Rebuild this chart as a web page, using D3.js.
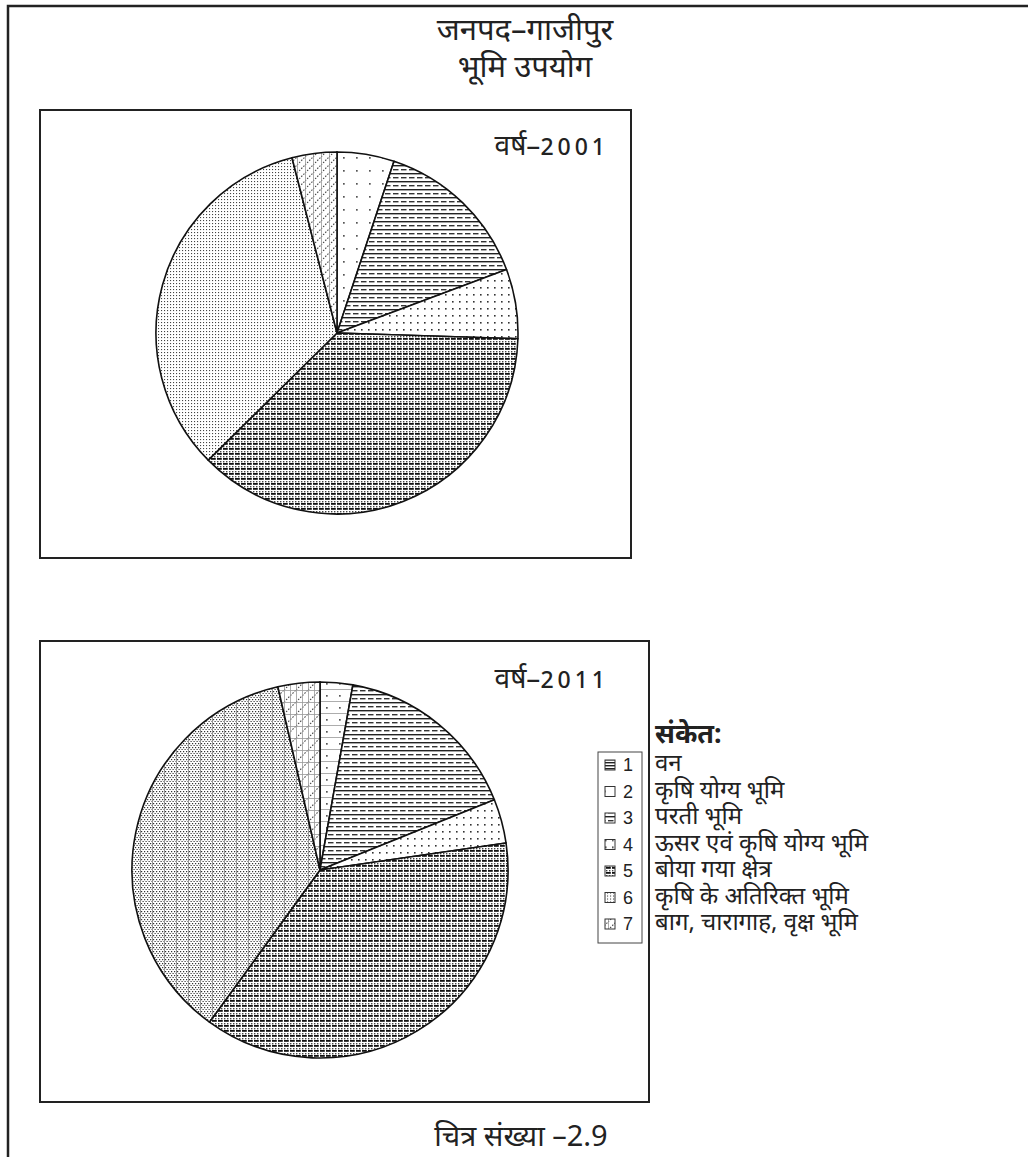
<!DOCTYPE html>
<html>
<head>
<meta charset="utf-8">
<script src="https://cdn.jsdelivr.net/npm/d3@7"></script>
<style>
  html, body { margin: 0; padding: 0; background: #fff; }
  svg { display: block; }
  .dev { font-family: "Noto Sans", "Lato", sans-serif; fill: #222; }
  .num { font-family: "Liberation Sans", Arial, sans-serif; fill: #222; }
</style>
</head>
<body>
<svg id="chart" width="1028" height="1157"></svg>
<script>
// ---------- data ----------
const titleLines = ["जनपद–गाजीपुर", "भूमि उपयोग"];
const categories = [
  "वन",
  "कृषि योग्य भूमि",
  "परती भूमि",
  "ऊसर एवं कृषि योग्य भूमि",
  "बोया गया क्षेत्र",
  "कृषि के अतिरिक्त भूमि",
  "बाग, चारागाह, वृक्ष भूमि"
];
const legendNumbers = ["1", "2", "3", "4", "5", "6", "7"];
const values2001 = [0, 5.1, 14.2, 6.2, 37.1, 33.4, 4.0];
const values2011 = [0, 2.8, 16.1, 3.8, 37.3, 36.4, 3.6];
const yearPrefix = "वर्ष–";
const years = ["2001", "2011"];
const legendTitle = "संकेत:";
const caption = "चित्र संख्या –2.9";

// ---------- drawing ----------
const svg = d3.select("#chart");
const defs = svg.append("defs");

function pat(id, w, h, build) {
  const p = defs.append("pattern").attr("id", id)
    .attr("patternUnits", "userSpaceOnUse").attr("width", w).attr("height", h);
  p.append("rect").attr("width", w).attr("height", h).attr("fill", "#fff");
  build(p);
}
// 1 (forest) - horizontal lines
pat("p1", 3, 3, p => p.append("rect").attr("y", 0).attr("width", 3).attr("height", 1.4).attr("fill", "#222"));
// 2 sparse dots
pat("p2a", 13, 13, p => p.append("rect").attr("x", 6).attr("y", 6).attr("width", 1.7).attr("height", 1.7).attr("fill", "#555"));
pat("p2b", 13, 12, p => {
  p.append("rect").attr("x", 6).attr("y", 5).attr("width", 1.7).attr("height", 1.7).attr("fill", "#555");
  p.append("rect").attr("x", 0).attr("y", 11).attr("width", 13).attr("height", 0.8).attr("fill", "#999");
});
// 3 dashes
pat("p3", 8, 8, p => {
  p.append("rect").attr("x", 0).attr("y", 0).attr("width", 8).attr("height", 1.4).attr("fill", "#222");
  p.append("rect").attr("x", 0).attr("y", 4).attr("width", 5.5).attr("height", 1.4).attr("fill", "#333");
});
// 4 dots
pat("p4", 7, 7, p => p.append("rect").attr("x", 3).attr("y", 3).attr("width", 1.6).attr("height", 1.6).attr("fill", "#333"));
// 5 dense dashes + dots
pat("p5", 6, 5, p => {
  p.append("rect").attr("x", 0).attr("y", 0).attr("width", 4.8).attr("height", 1.8).attr("fill", "#111");
  p.append("rect").attr("x", 0).attr("y", 3).attr("width", 1.4).attr("height", 1.4).attr("fill", "#444");
  p.append("rect").attr("x", 3).attr("y", 3).attr("width", 1.4).attr("height", 1.4).attr("fill", "#444");
});
// 6 fine dots
pat("p6a", 3, 3, p => p.append("rect").attr("x", 1).attr("y", 1).attr("width", 1.1).attr("height", 1.1).attr("fill", "#444"));
pat("p6b", 12, 4, p => {
  for (let x = 1; x < 12; x += 3) {
    p.append("rect").attr("x", x).attr("y", 1).attr("width", 1.2).attr("height", 1.2).attr("fill", "#333");
    p.append("rect").attr("x", x + 1.5).attr("y", 3).attr("width", 1.2).attr("height", 1.2).attr("fill", "#333");
  }
  p.append("rect").attr("x", 0).attr("y", 0).attr("width", 0.9).attr("height", 4).attr("fill", "#888");
});
// 7 diagonal dots
pat("p7a", 8, 8, p => {
  p.append("path").attr("d", "M0,8 L8,0").attr("stroke", "#444").attr("stroke-width", 1.1).attr("stroke-dasharray", "1.5,1.5");
  p.append("rect").attr("x", 0).attr("y", 0).attr("width", 0.8).attr("height", 8).attr("fill", "#999");
});
pat("p7b", 12, 12, p => {
  p.append("path").attr("d", "M0,12 L12,0 M-6,6 L6,-6 M6,18 L18,6").attr("stroke", "#444").attr("stroke-width", 1.1).attr("stroke-dasharray", "1.5,1.5");
  p.append("rect").attr("x", 0).attr("y", 0).attr("width", 0.8).attr("height", 12).attr("fill", "#999");
  p.append("rect").attr("x", 6).attr("y", 0).attr("width", 0.8).attr("height", 12).attr("fill", "#999");
  p.append("rect").attr("x", 0).attr("y", 0).attr("width", 12).attr("height", 0.8).attr("fill", "#999");
});

const fills2001 = ["url(#p1)", "url(#p2a)", "url(#p3)", "url(#p4)", "url(#p5)", "url(#p6a)", "url(#p7a)"];
const fills2011 = ["url(#p1)", "url(#p2b)", "url(#p3)", "url(#p4)", "url(#p5)", "url(#p6b)", "url(#p7b)"];

// outer frame
svg.append("path").attr("d", "M8,1157 V6 H1028").attr("fill", "none").attr("stroke", "#222").attr("stroke-width", 2.5);

// title
svg.selectAll("text.title").data(titleLines).join("text")
  .attr("class", "dev title").attr("x", 525).attr("y", (d, i) => 40 + i * 37)
  .attr("text-anchor", "middle").attr("font-size", 31).text(d => d);

// panels
const panels = [
  { box: [40, 110, 631, 558], cx: 337, cy: 333, r: 181, values: values2001, fills: fills2001, year: years[0], lx: 609, ly: 155 },
  { box: [40, 641, 649, 1102], cx: 320, cy: 870, r: 188, values: values2011, fills: fills2011, year: years[1], lx: 609, ly: 688 }
];

const pie = d3.pie().sort(null).value(d => d);

panels.forEach(pn => {
  const [x0, y0, x1, y1] = pn.box;
  svg.append("rect").attr("x", x0).attr("y", y0).attr("width", x1 - x0).attr("height", y1 - y0)
    .attr("fill", "none").attr("stroke", "#222").attr("stroke-width", 2);
  const t = svg.append("text").attr("class", "dev").attr("x", pn.lx).attr("y", pn.ly)
    .attr("text-anchor", "end").attr("font-size", 28);
  t.append("tspan").text(yearPrefix);
  t.append("tspan").attr("letter-spacing", 4).attr("font-size", 23).attr("font-weight", 500).text(pn.year);
  const arc = d3.arc().innerRadius(0).outerRadius(pn.r);
  const g = svg.append("g").attr("transform", `translate(${pn.cx},${pn.cy})`);
  g.selectAll("path").data(pie(pn.values)).join("path")
    .attr("d", arc)
    .attr("fill", (d, i) => pn.fills[i])
    .attr("stroke", "#111").attr("stroke-width", 1.6).attr("stroke-linejoin", "round");
});

// legend
svg.append("text").attr("class", "dev").attr("x", 655).attr("y", 743)
  .attr("font-size", 27).attr("font-weight", "bold").text(legendTitle);
svg.append("rect").attr("x", 598).attr("y", 752).attr("width", 44).attr("height", 191)
  .attr("fill", "none").attr("stroke", "#444").attr("stroke-width", 1);
const rowY = d3.scalePoint().domain(legendNumbers).range([771, 930]);
const lg = svg.selectAll("g.leg").data(categories).join("g").attr("class", "leg")
  .attr("transform", (d, i) => `translate(0,${rowY(legendNumbers[i])})`);
lg.append("rect").attr("x", 605).attr("y", -11).attr("width", 10).attr("height", 10)
  .attr("fill", (d, i) => fills2001[i]).attr("stroke", "#333").attr("stroke-width", 1);
lg.append("text").attr("class", "num").attr("x", 623).attr("y", 0).attr("font-size", 18)
  .text((d, i) => legendNumbers[i]);
lg.append("text").attr("class", "dev").attr("x", 655).attr("y", 0).attr("font-size", 24)
  .attr("textLength", null)
  .text(d => d);

// caption
svg.append("text").attr("class", "dev").attr("x", 521).attr("y", 1146)
  .attr("text-anchor", "middle").attr("font-size", 29).text(caption);
</script>
</body>
</html>
